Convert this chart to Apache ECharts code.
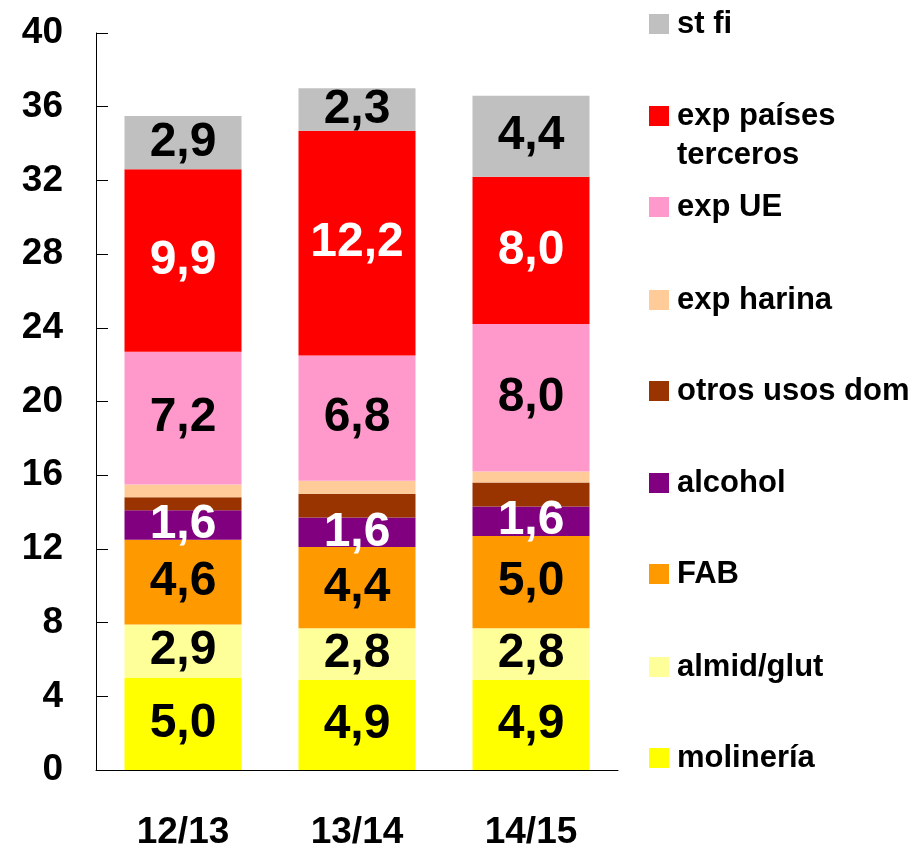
<!DOCTYPE html>
<html>
<head>
<meta charset="utf-8">
<script src="https://cdn.jsdelivr.net/npm/echarts@6/dist/echarts.min.js"></script>
<style>
  html, body { margin: 0; padding: 0; background: #fff; overflow: hidden; }
  #chart { width: 922px; height: 847px; }
</style>
</head>
<body>
<div id="chart"></div>
<script>
// Campaigns on the category axis
const campaigns = ['12/13', '13/14', '14/15'];

// Uses, stacked bottom to top (values per campaign)
const molineria = [5.0, 4.9, 4.9];
const almidGlut = [2.9, 2.8, 2.8];
const fab = [4.6, 4.4, 5.0];
const alcohol = [1.6, 1.6, 1.6];
const otrosUsosDom = [0.7, 1.3, 1.3];
const expHarina = [0.7, 0.7, 0.6];
const expUE = [7.2, 6.8, 8.0];
const expPaisesTerceros = [9.9, 12.2, 8.0];
const stFi = [2.9, 2.3, 4.4];

// Value axis ticks
const yMin = 0, yMax = 40, yStep = 4;

const FONT = '"Liberation Sans", Arial, sans-serif';

const seriesDefs = [
  { name: 'molinería', data: molineria, color: '#FFFF00', label: '#000' },
  { name: 'almid/glut', data: almidGlut, color: '#FFFF99', label: '#000' },
  { name: 'FAB', data: fab, color: '#FF9900', label: '#000' },
  { name: 'alcohol', data: alcohol, color: '#800080', label: '#fff' },
  { name: 'otros usos dom', data: otrosUsosDom, color: '#993300', label: null },
  { name: 'exp harina', data: expHarina, color: '#FFCC99', label: null },
  { name: 'exp UE', data: expUE, color: '#FF99CC', label: '#000' },
  { name: 'exp países terceros', data: expPaisesTerceros, color: '#FF0000', label: '#fff' },
  { name: 'st fi', data: stFi, color: '#C0C0C0', label: '#000' }
];

const series = seriesDefs.map(d => ({
  name: d.name,
  type: 'bar',
  stack: 'usos',
  barWidth: 117,
  data: d.data,
  itemStyle: { color: d.color },
  label: d.label ? {
    show: true,
    position: 'inside',
    color: d.label,
    fontFamily: FONT,
    fontWeight: 'bold',
    fontSize: 48,
    formatter: p => p.value.toFixed(1).replace('.', ',')
  } : { show: false },
  emphasis: { disabled: true }
}));

// Legend: one entry per row, top to bottom (vertical centre of each marker)
const legendRows = [
  ['st fi', 24],
  ['exp países terceros', 116],
  ['exp UE', 207],
  ['exp harina', 300],
  ['otros usos dom', 391],
  ['alcohol', 483],
  ['FAB', 574],
  ['almid/glut', 667],
  ['molinería', 758]
];

// The long name wraps onto a second line; an empty leading line keeps the
// marker level with the first line of text.
const legendText = n => (n === 'exp países terceros' ? ' \nexp países\nterceros' : n);

const legends = legendRows.map(([name, cy]) => {
  const twoLines = name === 'exp países terceros';
  const lh = twoLines ? 39 : 34;
  const h = twoLines ? 3 * lh : lh;
  return {
    data: [name],
    left: 649,
    top: cy - h / 2,
    padding: 0,
    orient: 'vertical',
    itemWidth: 20,
    itemHeight: 20,
    icon: 'rect',
    selectedMode: false,
    formatter: legendText,
    textStyle: {
      fontFamily: FONT,
      fontWeight: 'bold',
      fontSize: 31,
      color: '#000',
      lineHeight: lh,
      padding: [0, 0, 0, 3]
    }
  };
});

const chart = echarts.init(document.getElementById('chart'), null, { renderer: 'canvas' });
chart.setOption({
  animation: false,
  backgroundColor: '#fff',
  grid: {
    left: 96, right: 304, top: 33, bottom: 77,
    containLabel: false,
    outerBoundsMode: 'none'
  },
  legend: legends,
  xAxis: {
    type: 'category',
    data: campaigns,
    axisLine: { lineStyle: { color: '#000', width: 1 } },
    axisTick: { show: false },
    axisLabel: {
      margin: 44,
      color: '#000',
      fontFamily: FONT,
      fontWeight: 'bold',
      fontSize: 37
    }
  },
  yAxis: {
    type: 'value',
    min: yMin,
    max: yMax,
    interval: yStep,
    splitLine: { show: false },
    axisLine: { show: true, lineStyle: { color: '#000', width: 1 } },
    axisTick: { show: true, inside: true, length: 12, lineStyle: { color: '#000' } },
    axisLabel: {
      margin: 33,
      color: '#000',
      fontFamily: FONT,
      fontWeight: 'bold',
      fontSize: 37
    }
  },
  series: series
});
</script>
</body>
</html>
